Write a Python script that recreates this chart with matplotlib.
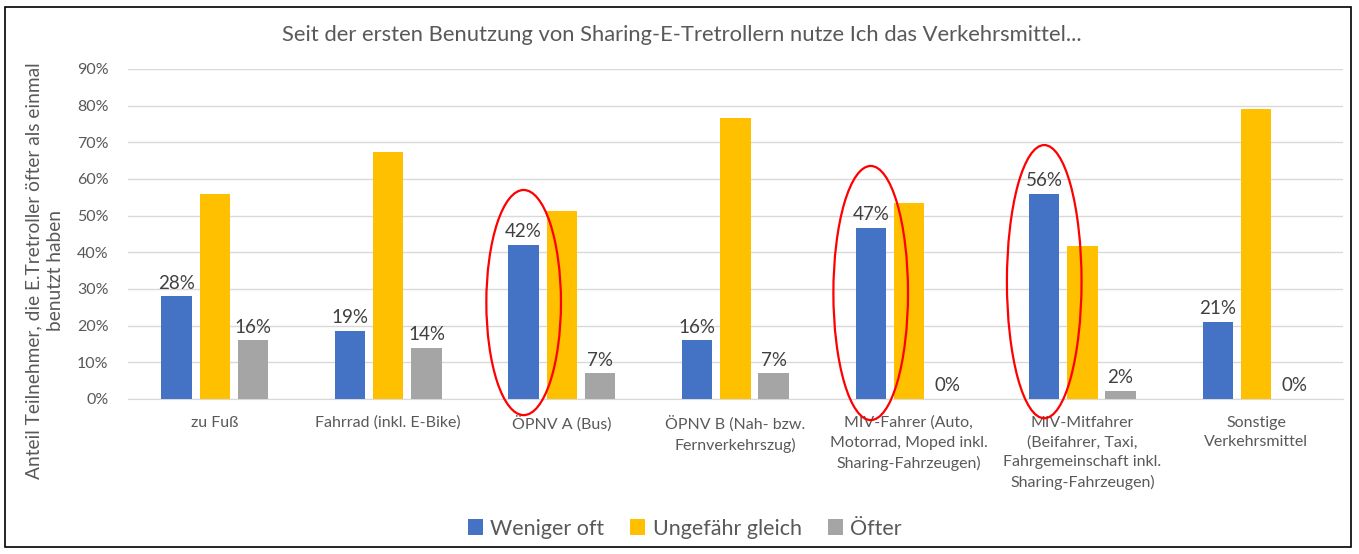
import numpy as np
import matplotlib
matplotlib.use("Agg")
import matplotlib.pyplot as plt
from matplotlib.patches import Ellipse, Rectangle

plt.rcParams['font.family'] = ['Lato', 'DejaVu Sans']

categories = [
    "zu Fuß",
    "Fahrrad (inkl. E-Bike)",
    "ÖPNV A (Bus)",
    "ÖPNV B (Nah- bzw.\nFernverkehrszug)",
    "MIV-Fahrer (Auto,\nMotorrad, Moped inkl.\nSharing-Fahrzeugen)",
    "MIV-Mitfahrer\n(Beifahrer, Taxi,\nFahrgemeinschaft inkl.\nSharing-Fahrzeugen)",
    "Sonstige\nVerkehrsmittel",
]
weniger_oft = [0.28, 0.186, 0.42, 0.16, 0.466, 0.56, 0.21]
ungefaehr_gleich = [0.56, 0.674, 0.512, 0.767, 0.534, 0.418, 0.79]
oefter = [0.16, 0.14, 0.07, 0.07, 0.0, 0.023, 0.0]

# highlighted categories (red ellipses around "Weniger oft")
highlight = [2, 4, 5]
highlight_h = [0.614, 0.693, 0.745]
highlight_cy = [0.263, 0.289, 0.320]

BLUE, YELLOW, GRAY = "#4472C4", "#FFC000", "#A5A5A5"
TXT = "#595959"

fig = plt.figure(figsize=(13.59, 5.54), dpi=100)
ax = fig.add_axes([0.0942, 0.2798, 0.8938, 0.5957])

x = np.arange(len(categories))
off, w = 0.22, 0.175
b1 = ax.bar(x - off, weniger_oft, w, color=BLUE, label="Weniger oft", zorder=3)
b2 = ax.bar(x, ungefaehr_gleich, w, color=YELLOW, label="Ungefähr gleich", zorder=3)
b3 = ax.bar(x + off, oefter, w, color=GRAY, label="Öfter", zorder=3)

for bars, vals in ((b1, weniger_oft), (b3, oefter)):
    for rect, v in zip(bars, vals):
        ax.text(rect.get_x() + rect.get_width() / 2, v + 0.013, f"{v*100:.0f}%",
                ha="center", va="bottom", fontsize=13.5, color="#404040")

for i, h, cy in zip(highlight, highlight_h, highlight_cy):
    ax.add_patch(Ellipse((x[i] - off, cy), 0.43, h, fill=False, edgecolor="red",
                         linewidth=1.6, zorder=5, clip_on=False))

ax.set_xlim(-0.5, len(categories) - 0.5)
ax.set_ylim(0, 0.9)
ax.set_yticks(np.arange(0, 0.91, 0.1))
ax.set_yticklabels([f"{int(round(t*100))}%" for t in np.arange(0, 0.91, 0.1)])
ax.set_xticks(x)
ax.set_xticklabels(categories, fontsize=11.5, color=TXT, linespacing=1.5, va="top")
ax.tick_params(axis="y", labelsize=11.5, labelcolor=TXT, length=0, pad=14)
ax.tick_params(axis="x", length=0, pad=12)
ax.grid(axis="y", color="#D9D9D9", linewidth=1, zorder=0)
for s in ("top", "right", "left"):
    ax.spines[s].set_visible(False)
ax.spines["bottom"].set_color("#D9D9D9")

ax.set_ylabel("Anteil Teilnehmer, die E.Tretroller öfter als einmal\nbenutzt haben",
              fontsize=13.8, color=TXT, linespacing=1.3)
ax.yaxis.set_label_coords(-0.053, 0.388)
fig.text(0.502, 0.937, "Seit der ersten Benutzung von Sharing-E-Tretrollern nutze Ich das Verkehrsmittel...",
         ha="center", va="center", fontsize=15.8, color=TXT)

fig.legend(handles=[b1, b2, b3], loc="center", bbox_to_anchor=(0.504, 0.046), ncol=3,
           frameon=False, fontsize=15.5, handlelength=0.7, handleheight=0.7,
           columnspacing=1.2, handletextpad=0.35, labelcolor=TXT)

fig.patches.append(Rectangle((0.004, 0.012), 0.99, 0.975, transform=fig.transFigure,
                             fill=False, edgecolor="black", linewidth=1.2))

fig.savefig("out.png", dpi=100)
